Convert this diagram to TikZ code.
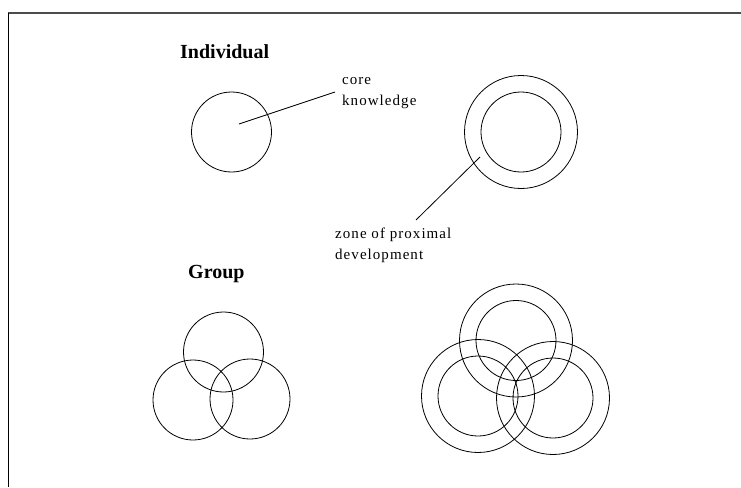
\documentclass[tikz,border=0pt]{standalone}
\usepackage{fontspec}
\setmainfont{Liberation Serif}
\newfontfamily\notefont[LetterSpace=7]{Liberation Serif}
\begin{document}
\begin{tikzpicture}[x=1pt,y=-1pt,
  ring/.style={draw,circle,line width=0.8pt,inner sep=0pt,minimum size=80pt},
  zpd/.style={ring,minimum size=113pt},
  note/.style={font=\notefont\fontsize{15}{21}\selectfont,align=left,inner sep=0pt,anchor=base west},
  head/.style={font=\bfseries\fontsize{20}{24}\selectfont,inner sep=0pt,anchor=base west}]
\useasboundingbox (0,0) rectangle (741,487);
% frame
\draw[gray!60!black,line width=2pt] (8,13) -- (741,13);
\draw[line width=1pt] (8,13) -- (8,487);
% individual
\node[head] (indiv) at (180,59) {Individual};
\node[ring] (core) at (231.5,132) {};
\node[ring] (selfin) at (521,132) {};
\node[zpd] (selfout) at (521,132) {};
\node[note] (corelbl) at (342,105) {core\\knowledge};
\node[note] (zpdlbl) at (335,259) {zone of proximal\\development};
\coordinate (coretip) at (239,124);
\coordinate (coreend) at (335,92);
\coordinate (zpdtip) at (480,157);
\coordinate (zpdend) at (416,220);
\draw[line width=0.8pt] (coretip) -- (coreend);
\draw[line width=0.8pt] (zpdtip) -- (zpdend);
% group
\node[head] (grp) at (188,278) {Group};
\node[ring] (ga) at (223.5,352) {};
\node[ring] (gb) at (193,400) {};
\node[ring] (gc) at (250,399) {};
\node[ring] (ha) at (516,340.5) {};
\node[zpd] (hao) at (516,340.5) {};
\node[ring] (hb) at (478,396) {};
\node[zpd] (hbo) at (478,396) {};
\node[ring] (hc) at (553,398) {};
\node[zpd] (hco) at (553,398) {};
\end{tikzpicture}
\end{document}
